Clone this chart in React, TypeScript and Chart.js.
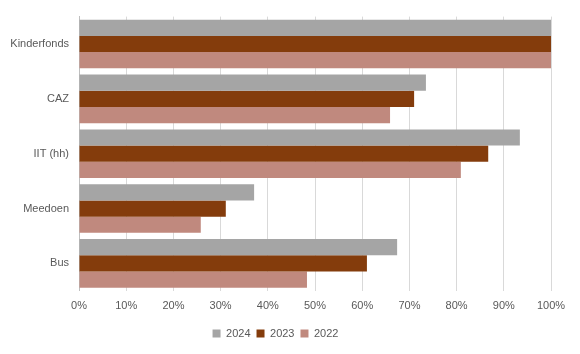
import React, { useEffect, useRef } from "react";
import { Chart, registerables } from "chart.js";

Chart.register(...registerables);

const categories = ["Kinderfonds", "CAZ", "IIT (hh)", "Meedoen", "Bus"];
const series2024 = [100, 73.5, 93.4, 37.1, 67.4];
const series2023 = [100, 71.0, 86.7, 31.1, 61.0];
const series2022 = [100, 65.9, 80.9, 25.8, 48.3];
const xTicks = [0, 10, 20, 30, 40, 50, 60, 70, 80, 90, 100];

export default function App() {
  const ref = useRef<HTMLCanvasElement | null>(null);
  useEffect(() => {
    document.body.style.margin = "0";
    if (!ref.current) return;
    const font = { family: "'Liberation Sans', Arial, sans-serif", size: 11 };
    const chart = new Chart(ref.current, {
      type: "bar",
      data: {
        labels: categories,
        datasets: [
          { label: "2024", data: series2024, backgroundColor: "#A5A5A5" },
          { label: "2023", data: series2023, backgroundColor: "#843C0C" },
          { label: "2022", data: series2022, backgroundColor: "#C0897E" },
        ],
      },
      options: {
        indexAxis: "y",
        animation: false,
        responsive: false,
        maintainAspectRatio: false,
        layout: { padding: { left: 0, right: 29, top: 16, bottom: 5 } },
        datasets: { bar: { barPercentage: 1, categoryPercentage: 0.885 } },
        plugins: {
          legend: {
            position: "bottom",
            labels: {
              color: "#595959",
              font,
              boxWidth: 8,
              boxHeight: 8,
              padding: 6,
            },
          },
          tooltip: { enabled: false },
        },
        scales: {
          x: {
            min: 0,
            max: 100,
            afterBuildTicks: (axis: any) => {
              axis.ticks = xTicks.map((v) => ({ value: v }));
            },
            ticks: {
              color: "#595959",
              font,
              padding: 9,
              callback: (v: any) => v + "%",
            },
            grid: {
              color: (ctx: any) => (ctx.tick && ctx.tick.value === 0 ? "#BFBFBF" : "#D9D9D9"),
              drawTicks: false,
            },
            border: { display: false },
          },
          y: {
            ticks: { color: "#595959", font, padding: 10 },
            grid: { display: false, drawTicks: false },
            border: { display: true, color: "#BFBFBF" },
            afterFit: (axis: any) => {
              axis.width = 79;
            },
          },
        },
      },
    });
    return () => chart.destroy();
  }, []);
  return <canvas ref={ref} width={580} height={354} style={{ display: "block" }} />;
}
